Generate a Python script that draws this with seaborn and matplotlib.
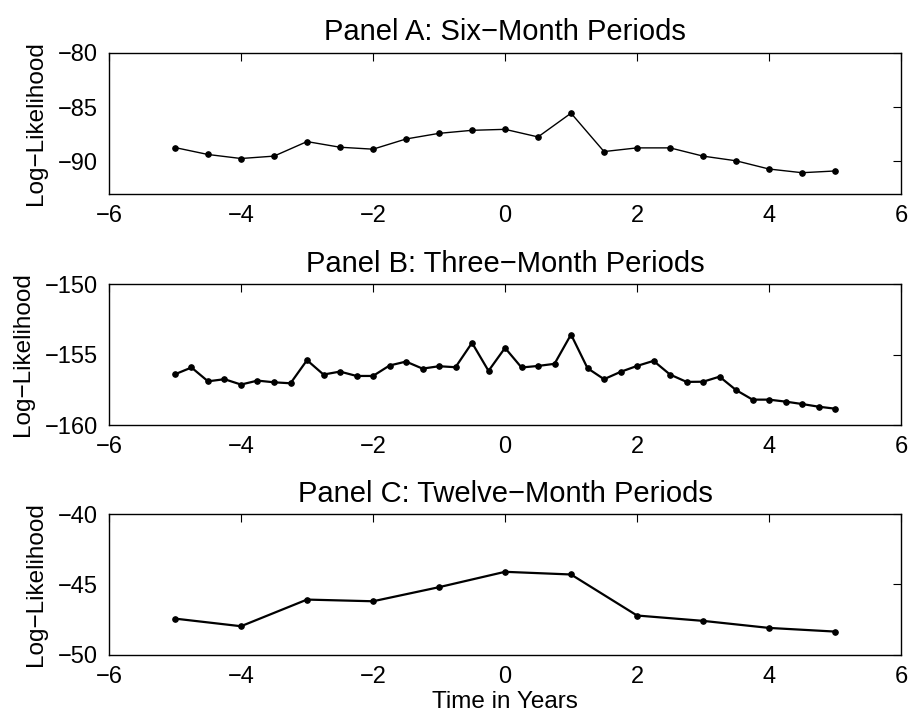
import numpy as np
import pandas as pd
import matplotlib
matplotlib.use("Agg")
import matplotlib.pyplot as plt
import seaborn as sns

# six-month periods
x_six = [-5, -4.5, -4, -3.5, -3, -2.5, -2, -1.5, -1, -0.5, 0,
         0.5, 1, 1.5, 2, 2.5, 3, 3.5, 4, 4.5, 5]
ll_six = [-88.72, -89.36, -89.73, -89.51, -88.17, -88.69, -88.87, -87.93,
          -87.41, -87.13, -87.04, -87.74, -85.55, -89.09, -88.75, -88.75,
          -89.51, -89.94, -90.70, -91.04, -90.88]

# three-month periods
x_three = [-5, -4.75, -4.5, -4.25, -4, -3.75, -3.5, -3.25, -3, -2.75, -2.5,
           -2.25, -2, -1.75, -1.5, -1.25, -1, -0.75, -0.5, -0.25, 0,
           0.25, 0.5, 0.75, 1, 1.25, 1.5, 1.75, 2, 2.25, 2.5, 2.75, 3,
           3.25, 3.5, 3.75, 4, 4.25, 4.5, 4.75, 5]
ll_three = [-156.40, -155.92, -156.90, -156.75, -157.13, -156.85, -156.97,
            -157.04, -155.40, -156.42, -156.21, -156.52, -156.52, -155.78,
            -155.50, -156.00, -155.83, -155.90, -154.17, -156.16, -154.53,
            -155.92, -155.81, -155.66, -153.58, -155.97, -156.75, -156.23,
            -155.81, -155.45, -156.42, -156.94, -156.93, -156.57, -157.52,
            -158.20, -158.20, -158.34, -158.51, -158.70, -158.84]

# twelve-month periods
x_twelve = [-5, -4, -3, -2, -1, 0, 1, 2, 3, 4, 5]
ll_twelve = [-47.42, -47.96, -46.07, -46.19, -45.19, -44.10, -44.29,
             -47.20, -47.58, -48.08, -48.34]

titles = ["Panel A: Six\u2212Month Periods",
          "Panel B: Three\u2212Month Periods",
          "Panel C: Twelve\u2212Month Periods"]
ylims = [(-93, -80), (-160, -150), (-50, -40)]
yticks = [[-90, -85, -80], [-160, -155, -150], [-50, -45, -40]]
widths = [1.0, 1.6, 1.6]

sns.set_theme(style="white")
plt.rcParams['font.family'] = ['Liberation Sans', 'DejaVu Sans']
plt.rcParams['axes.unicode_minus'] = True
plt.rcParams['text.color'] = 'black'
plt.rcParams['axes.labelcolor'] = 'black'

fig = plt.figure(figsize=(9.12, 7.2), dpi=100)
bottoms = [0.7306, 0.4097, 0.0903]
data = [(x_six, ll_six), (x_three, ll_three), (x_twelve, ll_twelve)]

for i, (xs, ys) in enumerate(data):
    ax = fig.add_axes([0.1195, bottoms[i], 0.8685, 0.1958])
    df = pd.DataFrame({"x": xs, "y": ys})
    sns.lineplot(data=df, x="x", y="y", ax=ax, color="black",
                 linewidth=widths[i], marker="o", markersize=4,
                 markeredgecolor="black")
    ax.set_xlim(-6, 6)
    ax.set_ylim(*ylims[i])
    ax.set_xticks([-6, -4, -2, 0, 2, 4, 6])
    ax.set_yticks(yticks[i])
    ax.tick_params(direction="in", length=6, width=0.8, top=True, right=True,
                   labelsize=17, pad=8, colors="black")
    for s in ax.spines.values():
        s.set_color("black")
        s.set_linewidth(1.0)
    ax.set_title(titles[i], fontsize=21, pad=9, color="black")
    ax.set_ylabel("Log\u2212Likelihood", fontsize=17.5, labelpad=8)
    ax.set_xlabel("")

ax.set_xlabel("Time in Years", fontsize=17.5, labelpad=2)

fig.savefig("out.png", dpi=100, facecolor="white")
